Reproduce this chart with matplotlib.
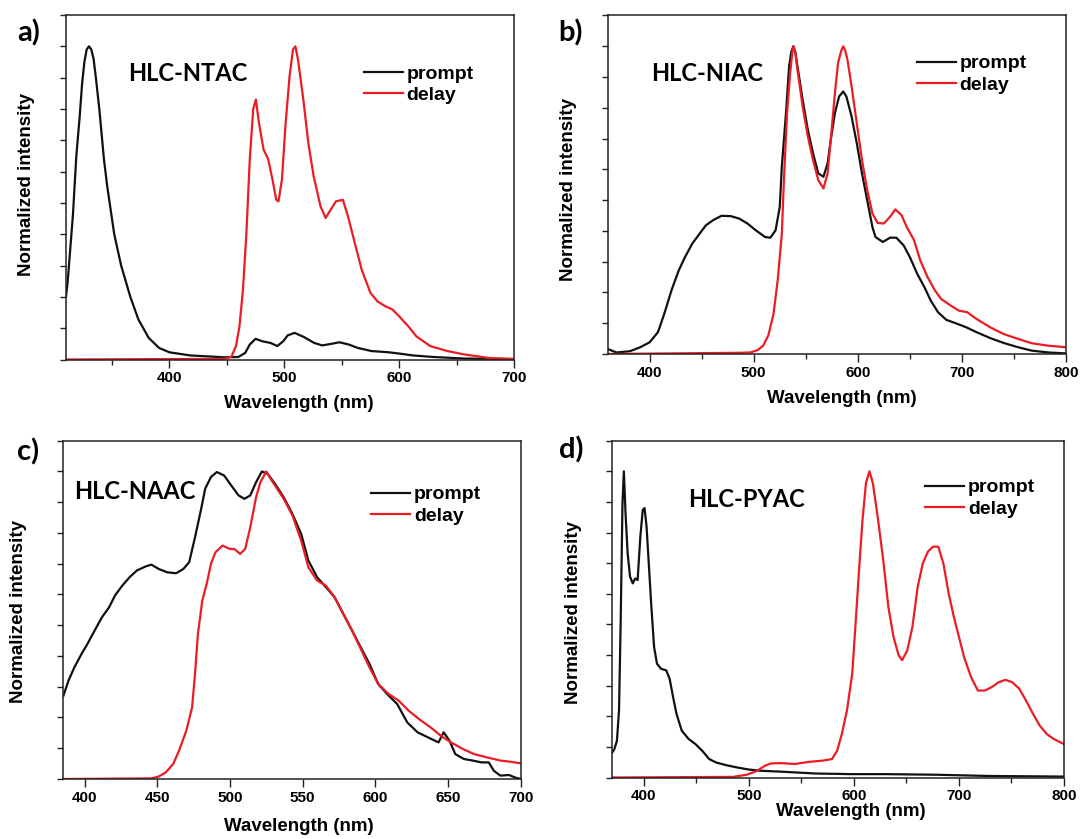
import matplotlib
matplotlib.use('Agg')
import matplotlib.pyplot as plt
from matplotlib.ticker import MultipleLocator

plt.rcParams['font.family'] = ['Liberation Sans', 'DejaVu Sans']
plt.rcParams['font.weight'] = 'bold'

# ---- a) HLC-NTAC ----
a_prompt_wl = [310, 311.5, 313, 316, 319, 322, 324, 326, 328, 330, 332, 334, 336, 339, 343, 346, 352,
               358, 366, 373, 382, 391, 400, 418, 448, 460, 466, 470, 475, 481, 488, 494,
               499, 503, 509, 517, 526, 533, 541, 548, 556, 564, 576, 591, 600, 612, 630, 657, 700]
a_prompt = [0.20, 0.25, 0.32, 0.46, 0.65, 0.78, 0.88, 0.95, 0.99, 1.00, 0.99, 0.96, 0.90, 0.80, 0.64,
            0.55, 0.40, 0.30, 0.20, 0.128, 0.069, 0.037, 0.023, 0.013, 0.007, 0.008, 0.021, 0.048, 0.066,
            0.058, 0.053, 0.043, 0.058, 0.077, 0.085, 0.072, 0.053, 0.045, 0.050, 0.055, 0.048, 0.037,
            0.027, 0.023, 0.019, 0.013, 0.008, 0.003, 0.001]
a_delay_wl = [310, 448, 454, 458, 461, 464, 467, 470, 473, 475.3, 478, 482, 486, 490, 493, 495, 498,
              501, 504.6, 507.6, 509.7, 512, 516.6, 521, 525.6, 531.5, 536, 540.5, 545, 551, 555.5,
              561.4, 567.4, 575, 581, 588, 594, 600, 608, 615, 627, 642, 657, 678, 700]
a_delay = [0.0, 0.002, 0.009, 0.043, 0.106, 0.22, 0.40, 0.64, 0.80, 0.83, 0.755, 0.67, 0.64, 0.57, 0.51,
           0.505, 0.575, 0.745, 0.904, 0.99, 1.00, 0.957, 0.83, 0.69, 0.585, 0.49, 0.452, 0.479, 0.505,
           0.51, 0.457, 0.372, 0.287, 0.213, 0.186, 0.170, 0.160, 0.138, 0.106, 0.074, 0.043, 0.027,
           0.016, 0.005, 0.002]

# ---- b) HLC-NIAC ----
b_prompt_wl = [360, 368, 381, 391, 400, 408, 414, 421, 428, 434, 441, 448, 454, 461, 469, 478, 486,
               494, 502, 511, 516, 521, 525, 527, 531, 534, 536, 538, 540, 542, 547, 552, 557, 562,
               567, 571, 574, 578, 582, 586, 589, 594, 599, 604, 609, 614, 617, 624, 631, 637,
               644, 650, 657, 664, 670, 677, 685, 694, 704, 714, 727, 740, 754, 767, 783, 800]
b_prompt = [0.016, 0.005, 0.009, 0.022, 0.038, 0.071, 0.13, 0.207, 0.272, 0.315, 0.359, 0.391, 0.418,
            0.435, 0.449, 0.448, 0.440, 0.424, 0.402, 0.380, 0.378, 0.402, 0.478, 0.609, 0.783, 0.935,
            0.98, 1.00, 0.98, 0.935, 0.826, 0.728, 0.652, 0.587, 0.576, 0.62, 0.696, 0.783, 0.837,
            0.853, 0.837, 0.772, 0.685, 0.587, 0.50, 0.413, 0.38, 0.364, 0.378, 0.378, 0.353, 0.315,
            0.261, 0.217, 0.174, 0.136, 0.111, 0.100, 0.087, 0.071, 0.052, 0.036, 0.022, 0.011,
            0.005, 0.002]
b_delay_wl = [360, 488, 497, 504, 509, 514, 519, 523, 527, 529, 532, 535, 537, 538.3, 540, 542, 547,
              552, 557, 562, 567, 571, 574, 578, 581, 584, 586, 588, 590, 594, 599, 604, 609, 614,
              619, 625, 631, 636, 642, 647, 654, 660, 667, 674, 680, 689, 697, 705, 714, 727, 740,
              754, 767, 783, 800]
b_delay = [0.0, 0.004, 0.005, 0.013, 0.027, 0.06, 0.13, 0.239, 0.391, 0.565, 0.783, 0.913, 0.98, 1.00,
           0.98, 0.924, 0.804, 0.707, 0.630, 0.565, 0.538, 0.587, 0.696, 0.848, 0.946, 0.985, 1.00,
           0.985, 0.957, 0.87, 0.75, 0.63, 0.533, 0.457, 0.426, 0.424, 0.446, 0.47, 0.451, 0.413,
           0.37, 0.304, 0.25, 0.207, 0.179, 0.158, 0.141, 0.136, 0.114, 0.087, 0.065, 0.049, 0.035,
           0.027, 0.022]

# ---- c) HLC-NAAC ----
c_prompt_wl = [385.5, 389, 393, 398, 402, 407, 412, 417, 421, 426, 431, 436, 442, 446, 451, 457, 463,
               468, 472, 476, 480, 483, 487, 491, 496, 501, 506, 510, 514, 518, 522, 526, 531, 537,
               543, 549, 554, 560, 566, 572, 578, 584, 590, 596, 602, 608, 615, 622, 629, 636, 643.5,
               647, 651, 655, 661, 667, 673, 678, 681.5, 686, 692, 696, 700]
c_prompt = [0.271, 0.32, 0.363, 0.407, 0.439, 0.483, 0.526, 0.559, 0.597, 0.629, 0.656, 0.678, 0.691,
            0.697, 0.683, 0.672, 0.669, 0.683, 0.705, 0.786, 0.873, 0.944, 0.982, 0.998, 0.987, 0.954,
            0.922, 0.911, 0.922, 0.965, 1.00, 0.992, 0.96, 0.916, 0.862, 0.797, 0.71, 0.656, 0.624,
            0.591, 0.537, 0.483, 0.428, 0.374, 0.309, 0.277, 0.244, 0.184, 0.152, 0.136, 0.119, 0.152,
            0.125, 0.081, 0.065, 0.06, 0.054, 0.054, 0.027, 0.011, 0.013, 0.005, 0.0]
c_delay_wl = [385.5, 446, 451, 456, 461, 465, 470, 474, 476, 478, 481, 484, 487, 490, 495, 500, 503,
              507, 510.5, 514, 518, 521, 525, 528, 537, 543, 549, 554, 560, 566, 572, 578, 584, 590,
              596, 602, 609, 616, 623, 630, 638, 645, 652, 660, 668, 677, 686, 693, 700]
c_delay = [0.0, 0.002, 0.008, 0.022, 0.049, 0.092, 0.157, 0.233, 0.342, 0.472, 0.58, 0.634, 0.70, 0.737,
           0.759, 0.748, 0.748, 0.732, 0.748, 0.819, 0.916, 0.965, 1.00, 0.976, 0.911, 0.857, 0.775,
           0.688, 0.645, 0.629, 0.591, 0.537, 0.483, 0.423, 0.363, 0.309, 0.277, 0.255, 0.222, 0.195,
           0.168, 0.141, 0.119, 0.098, 0.081, 0.07, 0.06, 0.056, 0.051]

# ---- d) HLC-PYAC ----
d_prompt_wl = [370, 372, 374.4, 376.4, 378, 379.7, 381, 382.6, 384.6, 386.9, 389.5, 391.8, 394.1, 396.7,
               399, 400.7, 402.6, 404.9, 407.2, 409.8, 412.5, 416.4, 421.3, 424.6, 427.9, 431.1, 436.1,
               442.6, 449.2, 455.7, 462.3, 468.9, 478.7, 488.5, 500, 511.5, 531, 564, 597, 630, 679,
               728, 800]
d_prompt = [0.082, 0.093, 0.12, 0.219, 0.514, 0.896, 1.00, 0.863, 0.732, 0.656, 0.634, 0.650, 0.645,
            0.787, 0.874, 0.880, 0.82, 0.689, 0.557, 0.426, 0.372, 0.355, 0.35, 0.322, 0.262, 0.208,
            0.153, 0.126, 0.109, 0.087, 0.06, 0.049, 0.040, 0.033, 0.026, 0.022, 0.019, 0.013, 0.011,
            0.011, 0.009, 0.005, 0.003]
d_delay_wl = [370, 485, 498, 508, 515, 521, 531, 544, 557, 570, 579, 584, 588.5, 593.4, 598.4, 601.6,
              604.9, 608.2, 611.5, 614.8, 618, 623, 627.9, 632.8, 637.7, 642.6, 645.9, 650.8, 655.7,
              660.7, 665.6, 670.5, 675.4, 680.3, 685.2, 690.2, 695.1, 700, 704.9, 711.5, 718, 724.6,
              731.1, 737.7, 744.3, 750.8, 757.4, 763.9, 770.5, 777, 783.6, 790.2, 800]
d_delay = [0.0, 0.002, 0.009, 0.022, 0.038, 0.046, 0.047, 0.044, 0.051, 0.055, 0.06, 0.087, 0.142,
           0.219, 0.339, 0.503, 0.678, 0.842, 0.962, 1.00, 0.962, 0.842, 0.71, 0.557, 0.459, 0.399,
           0.383, 0.415, 0.492, 0.623, 0.699, 0.738, 0.754, 0.754, 0.699, 0.601, 0.525, 0.459, 0.393,
           0.328, 0.284, 0.284, 0.295, 0.311, 0.319, 0.311, 0.290, 0.251, 0.208, 0.169, 0.142, 0.126,
           0.109]

RED = '#ec1c24'
BLACK = '#111111'
W, H = 1083, 839

fig = plt.figure(figsize=(W / 100, H / 100), dpi=100)


def add_panel(box, xlim, xminor, prompt, delay, name, name_xy, leg_xy, letter, letter_xy,
              ylab_x, ylab_y, xlab_xy):
    left, top, right, bottom = box
    ax = fig.add_axes([left / W, 1 - bottom / H, (right - left) / W, (bottom - top) / H])
    ax.plot(prompt[0], prompt[1], color=BLACK, lw=1.6, label='prompt')
    ax.plot(delay[0], delay[1], color=RED, lw=1.6, label='delay')
    ax.set_xlim(*xlim)
    ax.set_ylim(0, 1.10)

    ax.xaxis.set_major_locator(MultipleLocator(100 if xminor else 50))
    if xminor:
        ax.xaxis.set_minor_locator(MultipleLocator(xminor))
    ax.yaxis.set_major_locator(MultipleLocator(0.2))
    ax.yaxis.set_minor_locator(MultipleLocator(0.1))
    ax.tick_params(which='major', axis='x', direction='out', length=5.5, width=1.0,
                   labelsize=11, pad=3, color='#222222')
    ax.tick_params(which='minor', axis='x', direction='out', length=3.5, width=1.0, color='#222222')
    ax.tick_params(which='both', axis='y', direction='out', length=4, width=1.0,
                   labelleft=False, color='#222222')
    for sp in ax.spines.values():
        sp.set_linewidth(1.1)
        sp.set_color('#222222')

    ax.set_xlabel('Wavelength (nm)', fontsize=13.5, fontweight='bold')
    ax.xaxis.set_label_coords(*xlab_xy)
    ax.set_ylabel('Normalized intensity', fontsize=13.5, fontweight='bold')
    ax.yaxis.set_label_coords(ylab_x, ylab_y)

    ax.text(name_xy[0], name_xy[1], name, transform=ax.transAxes, ha='left', va='center',
            fontsize=17, fontweight='bold', family=['Lato', 'DejaVu Sans'])
    ax.legend(loc='center left', bbox_to_anchor=leg_xy, frameon=False, borderpad=0,
              borderaxespad=0, handlelength=2.0, handletextpad=0.2, labelspacing=0.2,
              prop={'size': 14, 'weight': 'bold'})
    fig.text(letter_xy[0] / W, 1 - letter_xy[1] / H, letter, ha='left', va='center',
             fontsize=21, fontweight='bold', family=['Lato', 'DejaVu Sans'])
    return ax


add_panel((66, 15, 514, 359.5), (310, 700), 50, (a_prompt_wl, a_prompt), (a_delay_wl, a_delay),
          'HLC-NTAC', (0.139, 0.831), (0.665, 0.798), 'a)', (17, 33),
          -0.070, 0.507, (0.519, -0.102))
add_panel((608, 15.5, 1066, 354), (360, 800), 50, (b_prompt_wl, b_prompt), (b_delay_wl, b_delay),
          'HLC-NIAC', (0.094, 0.829), (0.674, 0.826), 'b)', (558, 33),
          -0.067, 0.487, (0.511, -0.106))
add_panel((62.7, 440.7, 520.7, 779), (385, 700), None, (c_prompt_wl, c_prompt), (c_delay_wl, c_delay),
          'HLC-NAAC', (0.026, 0.851), (0.674, 0.809), 'c)', (17, 452),
          -0.079, 0.494, (0.515, -0.116))
add_panel((612.3, 440.7, 1064, 777.5), (370, 800), 50, (d_prompt_wl, d_prompt), (d_delay_wl, d_delay),
          'HLC-PYAC', (0.168, 0.824), (0.693, 0.829), 'd)', (559, 450),
          -0.066, 0.491, (0.528, -0.076))

fig.savefig('out.png', dpi=100)
